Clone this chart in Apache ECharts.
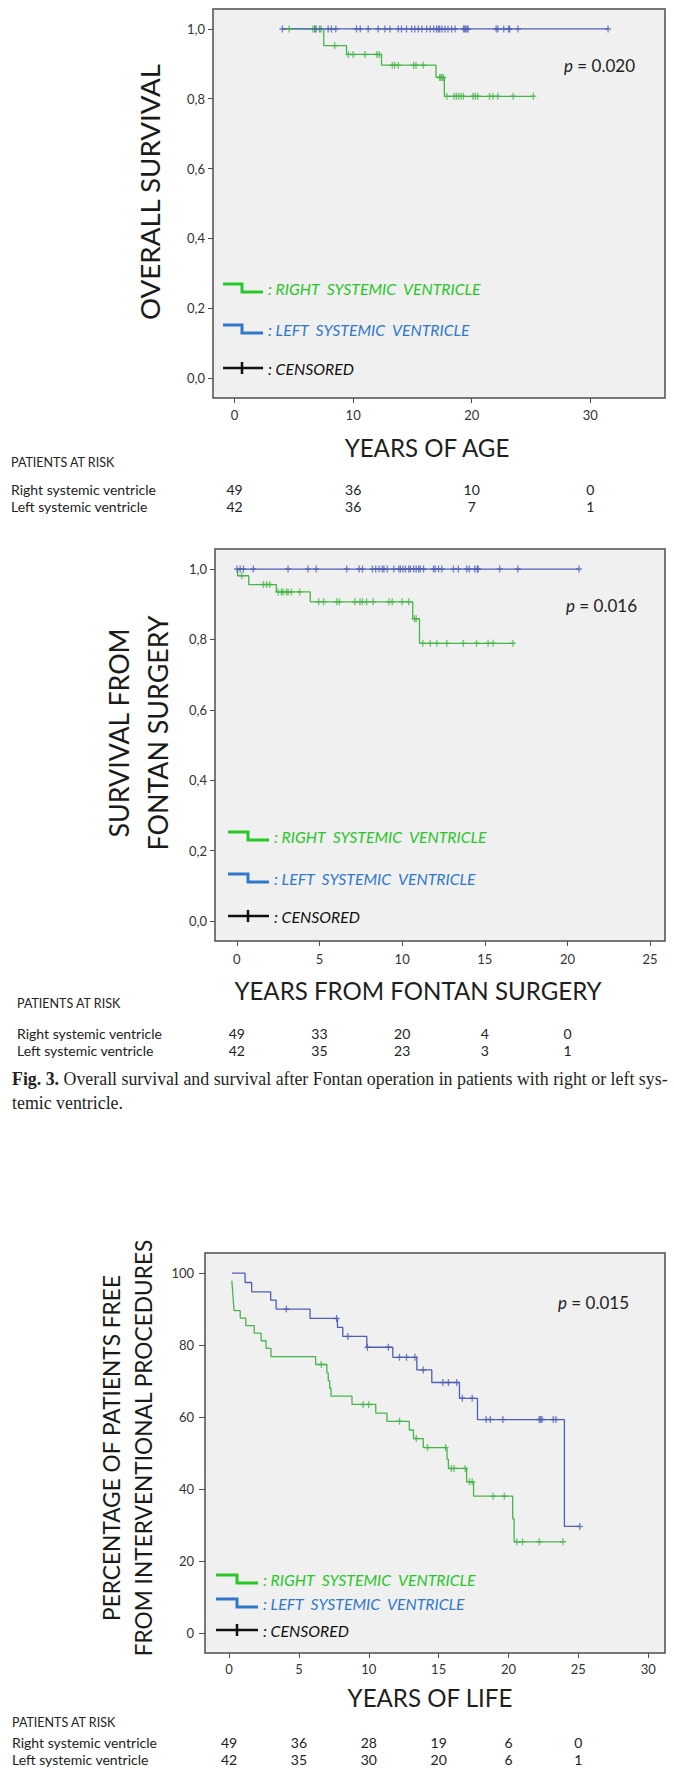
<!DOCTYPE html>
<html>
<head>
<meta charset="utf-8">
<script src="https://cdn.jsdelivr.net/npm/echarts@6/dist/echarts.min.js"></script>
<style>
  html, body { margin: 0; padding: 0; background: #ffffff; }
  #chart { width: 674px; height: 1779px; }
</style>
</head>
<body>
<div id="chart"></div>
<script>
// ---------- Tick labels ----------
const survTicks = [0, 0.2, 0.4, 0.6, 0.8, 1.0];
const ageTicks = [0, 10, 20, 30];
const fontanTicks = [0, 5, 10, 15, 20, 25];
const lifeTicks = [0, 5, 10, 15, 20, 25, 30];
const pctTicks = [0, 20, 40, 60, 80, 100];

// ---------- Panel A: overall survival vs age ----------
// Kaplan-Meier steps: [years, survival after the step]
const osRightSteps = [[4.0, 1.0], [7.52, 0.952], [9.44, 0.927], [12.39, 0.896], [16.99, 0.861], [17.69, 0.807], [25.2, 0.807]];
const osRightCensored = [4.6, 6.6, 6.8, 6.9, 7.3, 8.45, 9.6, 10.0, 11.0, 12.0, 12.2, 13.3, 13.5, 13.8, 15.1, 15.3, 15.9,
  17.3, 17.4, 17.5, 17.6, 17.9, 18.5, 18.7, 18.9, 19.1, 19.3, 20.1, 20.3, 20.5, 21.5, 21.8, 22.2, 23.5, 25.2];
const osLeftSteps = [[4.03, 1.0], [31.5, 1.0]];
const osLeftCensored = [4.03, 6.76, 7.18, 7.89, 8.17, 8.54, 10.28, 10.6, 11.27, 12.11, 12.68, 13.1, 13.8, 14.08, 14.5,
  14.93, 15.2, 15.5, 15.8, 16.2, 16.5, 16.8, 17.04, 17.2, 17.3, 17.5, 17.75, 18.0, 18.3, 18.6, 19.3, 19.4, 19.5, 19.6,
  19.7, 22.06, 22.2, 22.7, 23.1, 23.2, 23.9, 31.5];
const osAtRiskYears = [0, 10, 20, 30];
const osAtRiskRight = [49, 36, 10, 0];
const osAtRiskLeft = [42, 36, 7, 1];
const osPValue = '0.020';

// ---------- Panel B: survival from Fontan surgery ----------
const fsRightSteps = [[0, 1.0], [0.05, 0.981], [0.72, 0.956], [2.39, 0.935], [4.44, 0.907], [10.64, 0.859], [11.05, 0.789], [16.7, 0.789]];
const fsRightCensored = [0.3, 1.6, 1.8, 2.0, 2.5, 2.7, 2.8, 3.0, 3.1, 3.3, 3.8, 4.95, 5.25, 6.05, 6.2, 7.15, 7.45, 7.6,
  7.85, 8.25, 9.2, 9.4, 10.0, 10.4, 10.75, 10.85, 11.25, 11.7, 12.1, 12.7, 13.7, 14.5, 15.2, 15.5, 16.7];
const fsLeftSteps = [[0, 1.0], [20.7, 1.0]];
const fsLeftCensored = [0.01, 0.2, 0.4, 1.0, 3.1, 4.3, 4.8, 6.65, 7.4, 7.6, 8.2, 8.4, 8.6, 8.8, 8.9, 9.1, 9.5, 9.8, 9.9,
  10.05, 10.2, 10.4, 10.5, 10.7, 10.85, 11.0, 11.1, 11.3, 11.9, 12.0, 12.2, 12.4, 13.1, 13.4, 13.9, 14.05, 14.4, 14.55,
  14.6, 15.9, 17.0, 20.7];
const fsAtRiskYears = [0, 5, 10, 15, 20];
const fsAtRiskRight = [49, 33, 20, 4, 0];
const fsAtRiskLeft = [42, 35, 23, 3, 1];
const fsPValue = '0.016';

// ---------- Panel C: freedom from interventional procedures ----------
const ipRightSteps = [[0.2, 97.9], [0.24, 95.9], [0.28, 93.8], [0.32, 91.7], [0.36, 89.6], [0.8, 87.5], [1.2, 85.4],
  [1.8, 83.3], [2.3, 81.2], [2.65, 79.1], [3.0, 76.8], [6.2, 74.6], [7.0, 72.3], [7.1, 70.1], [7.2, 68.0], [7.3, 65.8],
  [8.8, 63.5], [10.5, 61.1], [11.3, 58.8], [12.9, 56.4], [13.2, 54.0], [13.9, 51.5], [15.6, 48.2], [15.7, 45.7],
  [17.0, 42.0], [17.5, 38.0], [20.3, 31.7], [20.4, 25.3], [23.9, 25.3]];
const ipRightCensored = [6.6, 9.6, 10.0, 12.2, 13.4, 14.2, 15.5, 15.9, 16.1, 16.9, 17.2, 17.4, 18.9, 19.7, 20.6, 21.0, 22.2, 23.9];
const ipLeftSteps = [[0.2, 100], [1.15, 97.4], [1.62, 94.8], [2.98, 92.5], [3.37, 90.0], [5.8, 87.4], [7.76, 84.9],
  [8.14, 82.4], [9.86, 79.4], [11.72, 76.6], [13.44, 73.1], [14.51, 69.6], [16.49, 65.2], [17.78, 59.3], [24.0, 29.6], [25.1, 29.6]];
const ipLeftCensored = [4.1, 7.7, 8.5, 9.9, 11.4, 12.2, 12.7, 13.3, 13.9, 15.3, 15.7, 16.3, 16.7, 17.4, 18.4, 18.7, 19.6,
  22.2, 22.3, 22.4, 23.2, 23.4, 25.1];
const ipAtRiskYears = [0, 5, 10, 15, 20, 25];
const ipAtRiskRight = [49, 36, 28, 19, 6, 0];
const ipAtRiskLeft = [42, 35, 30, 20, 6, 1];
const ipPValue = '0.015';

// ---------- Labels ----------
const groupRight = 'Right systemic ventricle';
const groupLeft = 'Left systemic ventricle';
const legendRight = ': RIGHT  SYSTEMIC  VENTRICLE';
const legendLeft = ': LEFT  SYSTEMIC  VENTRICLE';
const legendCensored = ': CENSORED';
const atRiskHeader = 'PATIENTS AT RISK';
const captionBold = 'Fig. 3.';
const captionLine1 = ' Overall survival and survival after Fontan operation in patients with right or left sys-';
const captionLine2 = 'temic ventricle.';

// ---------- Styling ----------
const SANS = "Lato, 'Open Sans', sans-serif";
const SERIF = "'Liberation Serif', 'DejaVu Serif', serif";
const GREEN = '#45b649';
const BLUE = '#4e5fb6';
const LEG_GREEN = '#27c727';
const LEG_BLUE = '#2f78cc';
const PLUS = 'path://M2.75,0h1.5v2.75h2.75v1.5h-2.75v2.75h-1.5v-2.75h-2.75v-1.5h2.75z';

const measureCtx = document.createElement('canvas').getContext('2d');
function fitSize(parts, width) {
  // parts: [[text, fontPrefix, family]]
  let w = 0;
  parts.forEach(([t, pre, fam]) => { measureCtx.font = pre + ' 100px ' + fam; w += measureCtx.measureText(t).width; });
  return 100 * width / w;
}

function kmLevel(steps, t) {
  let level = steps[0][1];
  for (const s of steps) { if (s[0] <= t + 1e-9) level = s[1]; }
  return level;
}

function kmSeries(steps, censored, color, idx) {
  return [
    { type: 'line', xAxisIndex: idx, yAxisIndex: idx, data: steps, step: 'end', symbol: 'none',
      lineStyle: { color: color, width: 1.3 }, silent: true, z: 3 },
    { type: 'scatter', xAxisIndex: idx, yAxisIndex: idx, data: censored.map(t => [t, kmLevel(steps, t)]),
      symbol: PLUS, symbolSize: [6, 7], itemStyle: { color: color }, silent: true, z: 4 }
  ];
}

const frameStyle = { show: true, backgroundColor: '#f0f0f0', borderColor: '#4d4d4d', borderWidth: 1.5 };
const grids = [
  Object.assign({ left: 213, top: 9, width: 452, height: 389 }, frameStyle),
  Object.assign({ left: 215, top: 549, width: 450, height: 392 }, frameStyle),
  Object.assign({ left: 205, top: 1253, width: 460, height: 400 }, frameStyle)
];

function xAxis(idx, min, max, ticks, margin) {
  return { type: 'value', gridIndex: idx, min: min, max: max, position: 'bottom',
    axisLine: { show: false, onZero: false }, splitLine: { show: false },
    axisTick: { show: true, length: 5, customValues: ticks, lineStyle: { color: '#4d4d4d', width: 1 } },
    axisLabel: { customValues: ticks, margin: margin, color: '#333', fontSize: 13, fontFamily: SANS } };
}
function yAxis(idx, min, max, ticks, margin, tickLen, fmt) {
  return { type: 'value', gridIndex: idx, min: min, max: max, position: 'left',
    axisLine: { show: false, onZero: false }, splitLine: { show: false },
    axisTick: { show: true, length: tickLen, customValues: ticks, lineStyle: { color: '#4d4d4d', width: 1 } },
    axisLabel: { customValues: ticks, margin: margin, color: '#333', fontSize: 13, fontFamily: SANS, formatter: fmt } };
}
const commaFmt = v => v.toFixed(1).replace('.', ',');

const chart = echarts.init(document.getElementById('chart'), null, { renderer: 'svg' });
chart.setOption({
  animation: false,
  backgroundColor: '#ffffff',
  grid: grids,
  xAxis: [
    xAxis(0, -1.82, 36.3, ageTicks, 10),
    xAxis(1, -1.32, 25.9, fontanTicks, 11),
    xAxis(2, -1.72, 31.2, lifeTicks, 9)
  ],
  yAxis: [
    yAxis(0, -0.057, 1.057, survTicks, 8, 5, commaFmt),
    yAxis(1, -0.057, 1.057, survTicks, 8, 5, commaFmt),
    yAxis(2, -5.6, 105.6, pctTicks, 11, 6, v => String(v))
  ],
  series: [].concat(
    kmSeries(osRightSteps, osRightCensored, GREEN, 0),
    kmSeries(osLeftSteps, osLeftCensored, BLUE, 0),
    kmSeries(fsRightSteps, fsRightCensored, GREEN, 1),
    kmSeries(fsLeftSteps, fsLeftCensored, BLUE, 1),
    kmSeries(ipRightSteps, ipRightCensored, GREEN, 2),
    kmSeries(ipLeftSteps, ipLeftCensored, BLUE, 2)
  )
});

// ---------- Text, legends and tables ----------
const g = [];
function text(x, y, str, opts) {
  g.push(Object.assign({ type: 'text', x: x, y: y, silent: true, z: 10,
    style: Object.assign({ text: str, fill: '#1e1e1e', align: 'left', verticalAlign: 'middle' }, opts.style || {}) },
    opts.rotation ? { rotation: opts.rotation } : {}));
}
function rotTitle(x, y, str, size) {
  text(x, y, str, { rotation: Math.PI / 2, style: { font: size.toFixed(1) + 'px ' + SANS, align: 'center', fill: '#1a1a1a' } });
}

// axis titles
const t1 = fitSize([['OVERALL SURVIVAL', '', SANS]], 257);
rotTitle(149, 192, 'OVERALL SURVIVAL', t1);
const t2 = fitSize([['FONTAN SURGERY', '', SANS]], 235);
rotTitle(119, 733, 'SURVIVAL FROM', t2);
rotTitle(158, 733, 'FONTAN SURGERY', t2);
const t3 = fitSize([['FROM INTERVENTIONAL PROCEDURES', '', SANS]], 417);
rotTitle(111, 1448, 'PERCENTAGE OF PATIENTS FREE', t3);
rotTitle(143, 1448, 'FROM INTERVENTIONAL PROCEDURES', t3);

const xs = fitSize([['YEARS OF AGE', '', SANS]], 166);
text(427, 447, 'YEARS OF AGE', { style: { font: xs.toFixed(1) + 'px ' + SANS, align: 'center' } });
text(418, 990, 'YEARS FROM FONTAN SURGERY', { style: { font: xs.toFixed(1) + 'px ' + SANS, align: 'center' } });
text(430, 1697, 'YEARS OF LIFE', { style: { font: xs.toFixed(1) + 'px ' + SANS, align: 'center' } });

// p values
function pText(x, y, val) {
  text(x, y, '{i|p} = ' + val, { style: { font: '17px ' + SANS, fill: '#222',
    rich: { i: { fontStyle: 'italic', fontSize: 17, fontFamily: SANS } } } });
}
pText(564, 65, osPValue);
pText(566, 605, fsPValue);
pText(558, 1302, ipPValue);

// in-plot legends
function legend(x0, xm, x1, xt, rows) {
  const [yr, yl, yc] = rows;
  [[yr, LEG_GREEN, legendRight], [yl, LEG_BLUE, legendLeft]].forEach(([y, c, s]) => {
    g.push({ type: 'polyline', silent: true, z: 10,
      shape: { points: [[x0, y - 4], [xm, y - 4], [xm, y + 4], [x1, y + 4]] },
      style: { stroke: c, lineWidth: 3, fill: null } });
    text(xt, y, s, { style: { font: 'italic 15.8px ' + SANS, fill: c } });
  });
  g.push({ type: 'line', silent: true, z: 10, shape: { x1: x0, y1: yc, x2: x1, y2: yc }, style: { stroke: '#111', lineWidth: 2.5 } });
  g.push({ type: 'line', silent: true, z: 10, shape: { x1: xm, y1: yc - 6, x2: xm, y2: yc + 6 }, style: { stroke: '#111', lineWidth: 2.5 } });
  text(xt, yc, legendCensored, { style: { font: 'italic 15.8px ' + SANS, fill: '#111' } });
}
legend(223, 242, 263, 268, [288, 329, 368]);
legend(228, 248, 269, 274, [836, 878, 916]);
legend(216, 237, 258, 263, [1579, 1603, 1630]);

// patients-at-risk tables, columns aligned with the x-axis ticks
function atRisk(idx, years, right, left, xLabel, yHead, yR, yL) {
  text(xLabel, yHead, atRiskHeader, { style: { font: '12.5px ' + SANS, fill: '#222' } });
  text(xLabel, yR, groupRight, { style: { font: '14px ' + SANS, fill: '#222' } });
  text(xLabel, yL, groupLeft, { style: { font: '14px ' + SANS, fill: '#222' } });
  years.forEach((t, i) => {
    const px = chart.convertToPixel({ xAxisIndex: idx }, t);
    text(px, yR, String(right[i]), { style: { font: '14px ' + SANS, fill: '#222', align: 'center' } });
    text(px, yL, String(left[i]), { style: { font: '14px ' + SANS, fill: '#222', align: 'center' } });
  });
}
atRisk(0, osAtRiskYears, osAtRiskRight, osAtRiskLeft, 11, 462, 489, 506);
atRisk(1, fsAtRiskYears, fsAtRiskRight, fsAtRiskLeft, 17, 1003, 1033, 1050);
atRisk(2, ipAtRiskYears, ipAtRiskRight, ipAtRiskLeft, 12, 1722, 1742, 1759);

// figure caption
const cs = fitSize([[captionBold, 'bold', SERIF], [captionLine1, '', SERIF]], 656);
text(12, 1079, '{b|' + captionBold + '}' + captionLine1, { style: { font: cs.toFixed(2) + 'px ' + SERIF, fill: '#231f20',
  rich: { b: { fontWeight: 'bold', fontSize: cs, fontFamily: SERIF } } } });
text(12, 1103, captionLine2, { style: { font: cs.toFixed(2) + 'px ' + SERIF, fill: '#231f20' } });

chart.setOption({ graphic: { elements: g } });
</script>
</body>
</html>
